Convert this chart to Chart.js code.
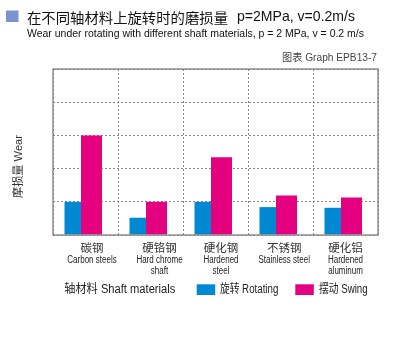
<!DOCTYPE html>
<html>
<head>
<meta charset="utf-8">
<script src="https://cdn.jsdelivr.net/npm/chart.js@4"></script>
<style>
html,body{margin:0;padding:0;background:#fff;}
#wrap{width:400px;height:360px;}
</style>
</head>
<body>
<div id="wrap"><canvas id="c" width="400" height="360"></canvas></div>
<script>
const categoriesZh = ['碳钢', '硬铬钢', '硬化钢', '不锈钢', '硬化铝'];
const categoriesEn = [['Carbon steels'], ['Hard chrome', 'shaft'], ['Hardened', 'steel'], ['Stainless steel'], ['Hardened', 'aluminum']];
const rotating = [1.0, 0.52, 1.0, 0.84, 0.82];
const swing = [3.0, 1.0, 2.34, 1.19, 1.13];
const yTicks = [0, 1, 2, 3, 4, 5];

const titleZh = '在不同轴材料上旋转时的磨损量';
const titleLatin = 'p=2MPa, v=0.2m/s';
const subtitle = 'Wear under rotating with different shaft materials, p = 2 MPa, v = 0.2 m/s';
const graphId = '图表 Graph EPB13-7';
const yTitle = '摩损量 Wear';
const xTitle = '轴材料 Shaft materials';
const seriesNames = ['旋转 Rotating', '摆动 Swing'];

const BLUE = '#0088D2';
const PINK = '#E4007F';
const NARROW = "'Liberation Sans Narrow','Liberation Sans','Noto Sans CJK SC',sans-serif";
const CJK = "'Noto Sans CJK SC',sans-serif";

function fitText(ctx, text, x, y, width, font, color, align) {
  ctx.save();
  ctx.font = font;
  ctx.fillStyle = color;
  ctx.textBaseline = 'middle';
  const w = ctx.measureText(text).width;
  const s = width / w;
  let x0 = x;
  if (align === 'right') x0 = x - width;
  else if (align === 'center') x0 = x - width / 2;
  ctx.translate(x0, y);
  ctx.scale(s, 1);
  ctx.textAlign = 'left';
  ctx.fillText(text, 0, 0);
  ctx.restore();
}

function squeezeText(ctx, text, cx, y, font, color, sx) {
  ctx.save();
  ctx.font = font;
  ctx.fillStyle = color;
  ctx.textBaseline = 'middle';
  ctx.textAlign = 'center';
  ctx.translate(cx, y);
  ctx.scale(sx, 1);
  ctx.fillText(text, 0, 0);
  ctx.restore();
}

const decor = {
  id: 'decor',
  afterDatasetsDraw(chart) {
    const ctx = chart.ctx;
    const a = chart.chartArea;
    ctx.save();
    ctx.strokeStyle = '#808080';
    ctx.lineWidth = 1.3;
    ctx.strokeRect(a.left, a.top, a.right - a.left, a.bottom - a.top);
    ctx.restore();
  },
  afterDraw(chart) {
    const ctx = chart.ctx;
    const xs = chart.scales.x;
    ctx.save();
    ctx.fillStyle = '#7B93CE';
    ctx.fillRect(6, 10.5, 12.5, 11.5);
    ctx.restore();
    fitText(ctx, titleZh, 27, 17.3, 201, '14px ' + CJK, '#111', 'left');
    fitText(ctx, titleLatin, 237, 17.3, 118, "15px 'Liberation Sans',sans-serif", '#111', 'left');
    fitText(ctx, subtitle, 27, 34, 337, '11.5px ' + NARROW, '#111', 'left');
    fitText(ctx, graphId, 377, 58.3, 95, '10.5px ' + NARROW, '#444', 'right');
    ctx.save();
    ctx.translate(18.5, 166.5);
    ctx.rotate(-Math.PI / 2);
    fitText(ctx, yTitle, 0, 0, 63, '11px ' + NARROW, '#333', 'center');
    ctx.restore();
    const labelShift = [6.5, 9, 5.5, 3.7, 0];
    categoriesZh.forEach((zh, i) => {
      const cx = xs.getPixelForValue(i) + labelShift[i];
      ctx.save();
      ctx.font = '11.5px ' + CJK;
      ctx.fillStyle = '#333';
      ctx.textAlign = 'center';
      ctx.textBaseline = 'middle';
      ctx.fillText(zh, cx, 247.5);
      ctx.restore();
      categoriesEn[i].forEach((ln, j) => {
        squeezeText(ctx, ln, cx, 260 + j * 11.7, '10px ' + NARROW, '#222', 0.8);
      });
    });
    fitText(ctx, xTitle, 64.3, 289.5, 111, '12.5px ' + NARROW, '#222', 'left');
    const ds = chart.data.datasets;
    const boxX = [196.7, 295.3];
    const txtX = [220, 319];
    const txtW = [58.3, 48.7];
    ds.forEach((d, i) => {
      ctx.save();
      ctx.fillStyle = d.backgroundColor;
      ctx.fillRect(boxX[i], 284.3, 18.5, 10.7);
      ctx.restore();
      fitText(ctx, d.label, txtX[i], 289.5, txtW[i], '12px ' + NARROW, '#222', 'left');
    });
  }
};

new Chart(document.getElementById('c'), {
  type: 'bar',
  data: {
    labels: categoriesZh,
    datasets: [
      { label: seriesNames[0], data: rotating, backgroundColor: BLUE, borderWidth: 0,
        categoryPercentage: 0.785, barPercentage: 0.647 },
      { label: seriesNames[1], data: swing, backgroundColor: PINK, borderWidth: 0,
        categoryPercentage: 0.369, barPercentage: 1.75 }
    ]
  },
  options: {
    responsive: false,
    devicePixelRatio: 1,
    animation: false,
    events: [],
    layout: { padding: { left: 53, top: 69, right: 22, bottom: 125 } },
    plugins: { legend: { display: false }, tooltip: { enabled: false }, title: { display: false } },
    scales: {
      x: {
        offset: true,
        ticks: { display: false },
        grid: { offset: true, drawTicks: false, color: '#8a8a8a', lineWidth: 1 },
        border: { display: false, dash: [2, 2] }
      },
      y: {
        min: yTicks[0],
        max: yTicks[yTicks.length - 1],
        afterBuildTicks(scale) { scale.ticks = yTicks.map(v => ({ value: v })); },
        ticks: { display: false },
        grid: { drawTicks: false, color: '#8a8a8a', lineWidth: 1 },
        border: { display: false, dash: [2, 2] }
      }
    }
  },
  plugins: [decor]
});
</script>
</body>
</html>
